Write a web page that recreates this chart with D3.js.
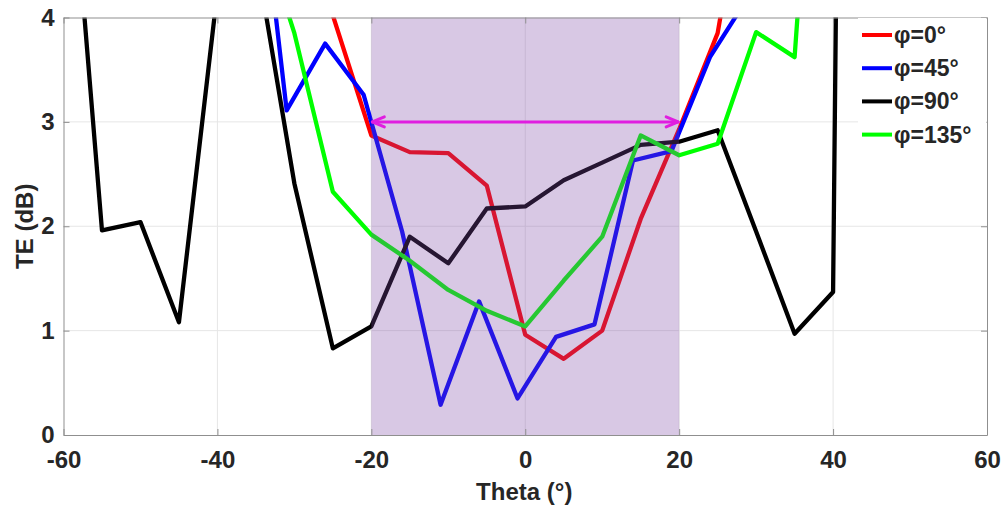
<!DOCTYPE html>
<html>
<head>
<meta charset="utf-8">
<script src="https://cdn.jsdelivr.net/npm/d3@7"></script>
<style>
  html, body { margin: 0; padding: 0; background: #fff; }
  svg { display: block; }
  text { font-family: "Liberation Sans", Arial, sans-serif; font-weight: bold; fill: #262626; }
</style>
</head>
<body>
<svg id="chart" width="1003" height="508"></svg>
<script>
// ---- data ----
const seriesNames = ["φ=0°", "φ=45°", "φ=90°", "φ=135°"];
const seriesColors = ["#ff0000", "#0000ff", "#000000", "#00ff00"];

const xRed   = [-30, -25, -20, -15, -10, -5, 0, 5, 10, 15, 20, 25, 30];
const yRed   = [5.5, 4.02, 2.87, 2.71, 2.70, 2.39, 0.96, 0.73, 1.00, 2.07, 2.93, 3.85, 6.0];

const xBlue  = [-36, -31, -26, -21, -16, -11, -6, -1, 4, 9, 14, 19, 24, 29];
const yBlue  = [6.3, 3.11, 3.75, 3.26, 1.95, 0.29, 1.28, 0.35, 0.94, 1.06, 2.63, 2.72, 3.62, 4.2];

const xBlack = [-60, -55, -50, -45, -40, -35, -30, -25, -20, -15, -10, -5, 0, 5, 10, 15, 20, 25, 30, 35, 40, 45];
const yBlack = [6.45, 1.96, 2.04, 1.08, 4.25, 4.6, 2.41, 0.83, 1.04, 1.90, 1.645, 2.17, 2.19, 2.44, 2.61, 2.78, 2.81, 2.92, 1.95, 0.97, 1.37, 38];

const xGreen = [-35, -30, -25, -20, -15, -10, -5, 0, 5, 10, 15, 20, 25, 30, 35, 40];
const yGreen = [5.0, 3.85, 2.33, 1.92, 1.67, 1.39, 1.19, 1.04, 1.48, 1.90, 2.87, 2.68, 2.79, 3.86, 3.62, 8.8];

const xTicks = [-60, -40, -20, 0, 20, 40, 60];
const yTicks = [0, 1, 2, 3, 4];
const bandRange = [-20, 20];
const arrowLevel = 3.0;

// ---- layout ----
const svg = d3.select("#chart");
const L = 63.5, R = 987, T = 17.5, B = 435;
const x = d3.scaleLinear().domain([-60, 60]).range([L, R]);
const y = d3.scaleLinear().domain([0, 4]).range([B, T]);
const fmt = d => String(d);

svg.append("defs").append("clipPath").attr("id", "clip")
  .append("rect").attr("x", L).attr("y", T).attr("width", R - L).attr("height", B - T);

// grid
const grid = svg.append("g");
grid.selectAll(".gx").data(xTicks.slice(1, -1)).join("line")
  .attr("x1", d => x(d)).attr("x2", d => x(d)).attr("y1", T).attr("y2", B)
  .attr("stroke", "#e6e6e6").attr("stroke-width", 1);
grid.selectAll(".gy").data(yTicks.slice(1, -1)).join("line")
  .attr("x1", L).attr("x2", R).attr("y1", d => y(d)).attr("y2", d => y(d))
  .attr("stroke", "#e6e6e6").attr("stroke-width", 1);

// series
const series = [
  { xs: xRed, ys: yRed },
  { xs: xBlue, ys: yBlue },
  { xs: xBlack, ys: yBlack },
  { xs: xGreen, ys: yGreen }
];
const line = d3.line().x(d => x(d[0])).y(d => y(d[1]));
const plot = svg.append("g").attr("clip-path", "url(#clip)");
series.forEach((s, i) => {
  plot.append("path")
    .datum(s.xs.map((v, k) => [v, s.ys[k]]))
    .attr("d", line)
    .attr("fill", "none")
    .attr("stroke", seriesColors[i])
    .attr("stroke-width", 4.3)
    .attr("stroke-linejoin", "round");
});

// translucent band
svg.append("rect")
  .attr("x", x(bandRange[0])).attr("y", T)
  .attr("width", x(bandRange[1]) - x(bandRange[0])).attr("height", B - T)
  .attr("fill", "rgb(125,72,165)").attr("fill-opacity", 0.3);

// double arrow
const ay = y(arrowLevel), ax1 = x(bandRange[0]), ax2 = x(bandRange[1]);
const arrow = svg.append("g").attr("stroke", "#e01ee0").attr("stroke-width", 3).attr("fill", "none")
  .attr("stroke-linecap", "round").attr("stroke-linejoin", "round");
arrow.append("line").attr("x1", ax1 + 1).attr("x2", ax2 - 1).attr("y1", ay).attr("y2", ay);
arrow.append("path").attr("d", `M${ax1 + 13},${ay - 5} L${ax1 + 1},${ay} L${ax1 + 13},${ay + 5}`);
arrow.append("path").attr("d", `M${ax2 - 13},${ay - 5} L${ax2 - 1},${ay} L${ax2 - 13},${ay + 5}`);

// axes
const axisColor = "#8f8f8f";
function styleAxis(g) {
  g.select(".domain").attr("stroke", axisColor);
  g.selectAll(".tick line").attr("stroke", axisColor);
  g.selectAll("text").attr("fill", "#262626").style("font-size", "24px").style("font-weight", "bold")
    .style("font-family", "'Liberation Sans', Arial, sans-serif");
}
svg.append("g").attr("transform", `translate(0,${B})`)
  .call(d3.axisBottom(x).tickValues(xTicks).tickFormat(fmt).tickSize(-6).tickSizeOuter(0).tickPadding(16))
  .call(styleAxis);
svg.append("g").attr("transform", `translate(${L},0)`)
  .call(d3.axisLeft(y).tickValues(yTicks).tickFormat(fmt).tickSize(-6).tickSizeOuter(0).tickPadding(9))
  .call(styleAxis);
svg.append("g").attr("transform", `translate(0,${T})`)
  .call(d3.axisTop(x).tickValues(xTicks).tickSize(-6).tickSizeOuter(0).tickFormat(""))
  .call(styleAxis);
svg.append("g").attr("transform", `translate(${R},0)`)
  .call(d3.axisRight(y).tickValues(yTicks).tickSize(-6).tickSizeOuter(0).tickFormat(""))
  .call(styleAxis);

// axis labels
svg.append("text").attr("x", (L + R) / 2 - 1).attr("y", 500)
  .attr("text-anchor", "middle").style("font-size", "24px").text("Theta (°)");
svg.append("text").attr("transform", `translate(33,${(T + B) / 2}) rotate(-90)`)
  .attr("text-anchor", "middle").style("font-size", "24px").text("TE (dB)");

// legend
const lg = svg.append("g");
lg.append("rect").attr("x", 858).attr("y", T + 0.5).attr("width", R - 858 - 0.5).attr("height", 135)
  .attr("fill", "#fff");
seriesNames.forEach((name, i) => {
  const cy = 35 + i * 33.2;
  lg.append("line").attr("x1", 862).attr("x2", 892).attr("y1", cy).attr("y2", cy)
    .attr("stroke", seriesColors[i]).attr("stroke-width", 4);
  lg.append("text").attr("x", 894).attr("y", cy + 8).style("font-size", "23px").text(name);
});
</script>
</body>
</html>
